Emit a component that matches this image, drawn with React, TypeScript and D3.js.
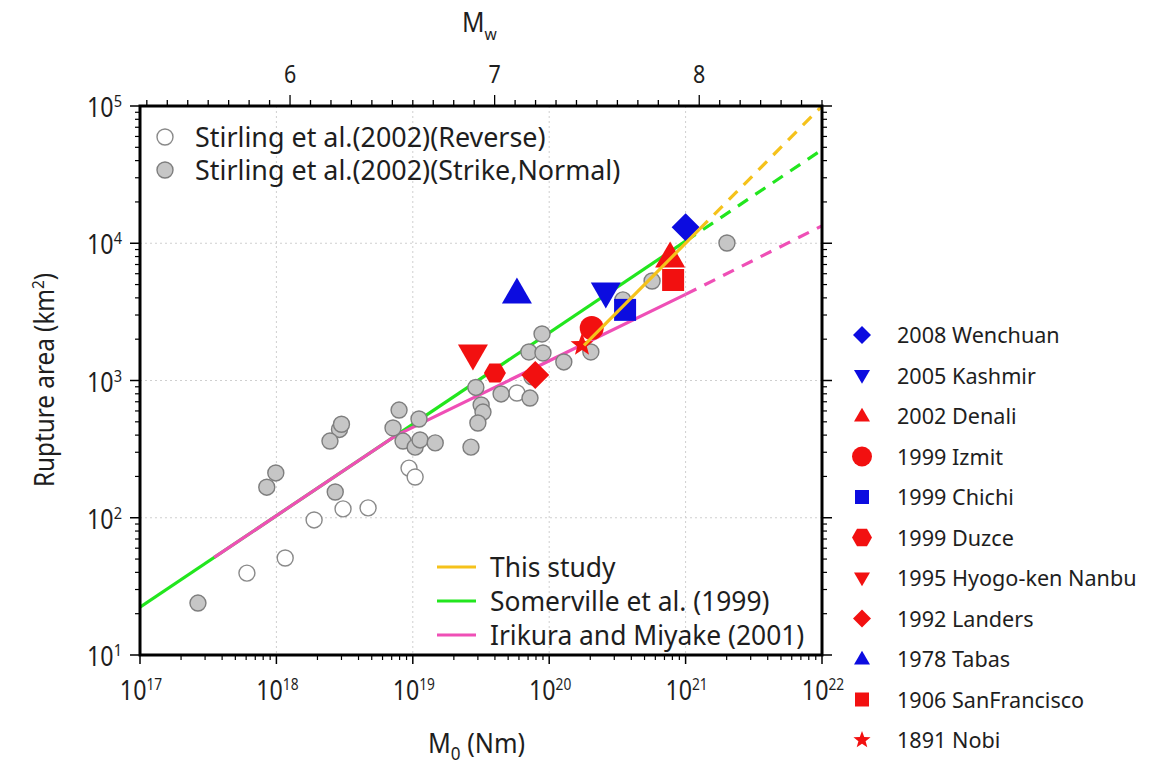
import React from 'react';
import * as d3 from 'd3';

const FONT = "'Noto Sans', 'Open Sans', sans-serif";

// Stirling et al. (2002) Reverse (open circles)
const reverseM0 = [6.08e17, 1.16e18, 1.89e18, 3.08e18, 4.7e18, 9.38e18, 1.04e19, 5.8e19];
const reverseArea = [39.5, 50.9, 96.4, 116, 118, 230, 198, 811];

// Stirling et al. (2002) Strike, Normal (gray circles)
const strikeM0 = [2.66e17, 8.5e17, 9.9e17, 2.7e18, 2.9e18, 3.0e18, 2.47e18, 7.16e18, 7.93e18, 8.48e18,
  1.04e19, 1.11e19, 1.13e19, 1.46e19, 2.67e19, 2.9e19, 3.17e19, 3.27e19, 3.0e19, 4.44e19,
  7.23e19, 7.48e19, 7.1e19, 9.0e19, 8.86e19, 1.28e20, 2.02e20, 3.47e20, 5.68e20, 2.01e21];
const strikeArea = [23.9, 167, 212, 154, 440, 480, 362, 451, 609, 362,
  327, 524, 369, 351, 327, 890, 663, 589, 490, 798,
  745, 1062, 1614, 1587, 2183, 1365, 1614, 3866, 5310, 10040];

// Events
const eventNames = ['2008 Wenchuan', '2005 Kashmir', '2002 Denali', '1999 Izmit', '1999 Chichi', '1999 Duzce',
  '1995 Hyogo-ken Nanbu', '1992 Landers', '1978 Tabas', '1906 SanFrancisco', '1891 Nobi'];
const eventM0 = [1.0e21, 2.6e20, 7.7e20, 2.05e20, 3.6e20, 4.0e19, 2.76e19, 7.9e19, 5.8e19, 8.1e20, 1.74e20];
const eventArea = [13100, 4350, 7940, 2410, 3270, 1135, 1535, 1097, 4330, 5400, 1815];
const eventShapes = ['diamond', 'triangleDown', 'triangle', 'circle', 'square', 'hexagon', 'triangleDown', 'diamond', 'triangle', 'square', 'star'];
const eventColors = ['blue', 'blue', 'red', 'red', 'blue', 'red', 'red', 'red', 'blue', 'red', 'red'];

// Scaling relations (vertices in M0 [Nm], area [km2])
const somervilleSolid: [number, number][] = [[1e17, 22.3], [1e21, 10350]];
const somervilleDashed: [number, number][] = [[1e21, 10350], [1e22, 48000]];
const irikuraSolid: [number, number][] = [[3.5e17, 51.4], [7.5e18, 397], [1e21, 4240]];
const irikuraDashed: [number, number][] = [[1e21, 4240], [1e22, 13400]];
const thisStudySolid: [number, number][] = [[1.8e20, 1800], [1.26e21, 12600]];
const thisStudyDashed: [number, number][] = [[1.26e21, 12600], [1e22, 100000]];

const lineLegend = ['This study', 'Somerville et al. (1999)', 'Irikura and Miyake (2001)'];
const lineColors = ['#f5c21b', '#22e61e', '#ef4fb6'];

const xDecades = [17, 18, 19, 20, 21, 22];
const yDecades = [1, 2, 3, 4, 5];
const mwLabels = [6, 7, 8];

const COLORS: Record<string, string> = { red: '#f21010', blue: '#0c0ce0' };
const TXT = '#1e1e1e';

function shapePath(shape: string, s: number): string {
  switch (shape) {
    case 'diamond':
      return `M0,${-s}L${s},0L0,${s}L${-s},0Z`;
    case 'triangle': {
      const h = s * 2 * 0.866;
      return `M0,${-h * 0.6}L${s},${h * 0.4}L${-s},${h * 0.4}Z`;
    }
    case 'triangleDown': {
      const h = s * 2 * 0.866;
      return `M0,${h * 0.6}L${s},${-h * 0.4}L${-s},${-h * 0.4}Z`;
    }
    case 'circle':
      return d3.symbol(d3.symbolCircle, Math.PI * s * s)() as string;
    case 'square':
      return `M${-s},${-s}L${s},${-s}L${s},${s}L${-s},${s}Z`;
    case 'hexagon': {
      const pts = d3.range(6).map(i => {
        const a = (i * Math.PI) / 3;
        return [s * Math.cos(a), s * Math.sin(a)];
      });
      return 'M' + pts.map(p => p.join(',')).join('L') + 'Z';
    }
    case 'star': {
      const pts = d3.range(10).map(i => {
        const r = i % 2 === 0 ? s : s * 0.42;
        const a = -Math.PI / 2 + (i * Math.PI) / 5;
        return [r * Math.cos(a), r * Math.sin(a)];
      });
      return 'M' + pts.map(p => p.join(',')).join('L') + 'Z';
    }
  }
  return '';
}

const plotSize: Record<string, number> = { diamond: 14, triangle: 15, triangleDown: 15, circle: 12, square: 11, hexagon: 11, star: 12 };
const legendSize: Record<string, number> = { diamond: 9, triangle: 8, triangleDown: 8, circle: 10, square: 7, hexagon: 10, star: 9 };

function Txt(props: { x: number; y: number; size: number; sx?: number; anchor?: string; rotate?: number; children: any }) {
  const { x, y, size, sx = 1, anchor = 'start', rotate = 0, children } = props;
  return (
    <text transform={`translate(${x},${y}) rotate(${rotate}) scale(${sx},1)`} textAnchor={anchor} fontSize={size} fill={TXT}>
      {children}
    </text>
  );
}

export default function App() {
  const W = 1156, H = 764;
  const L = 140, R = 822, T = 106, B = 655;
  const x = d3.scaleLog().domain([1e17, 1e22]).range([L, R]);
  const y = d3.scaleLog().domain([10, 1e5]).range([B, T]);
  const line = d3.line<[number, number]>().x(d => x(d[0])).y(d => y(d[1]));

  const mwToM0 = (mw: number) => Math.pow(10, 1.5 * mw + 9.1);
  const mwTicks = d3.range(53, 87).map(v => v / 10);

  const xMinor: number[] = [];
  xDecades.slice(0, -1).forEach(d => { for (let k = 2; k <= 9; k++) xMinor.push(k * Math.pow(10, d)); });
  const yMinor: number[] = [];
  yDecades.slice(0, -1).forEach(d => { for (let k = 2; k <= 9; k++) yMinor.push(k * Math.pow(10, d)); });

  const gridX = xDecades.slice(1, -1).map(d => Math.pow(10, d));
  const gridY = yDecades.slice(1, -1).map(d => Math.pow(10, d));

  const legendY0 = 335, legendDY = 40.5;

  return (
    <svg width={W} height={H} style={{ position: 'absolute', left: 0, top: 0, background: '#fff' }} fontFamily={FONT}>
      <defs>
        <clipPath id="plotclip"><rect x={L} y={T} width={R - L} height={B - T} /></clipPath>
      </defs>
      <rect x={0} y={0} width={W} height={H} fill="#fff" />
      {/* grid */}
      {gridX.map(v => (
        <line key={'gx' + v} x1={x(v)} x2={x(v)} y1={T} y2={B} stroke="#cfcfcf" strokeWidth={1} strokeDasharray="2,3" />
      ))}
      {gridY.map(v => (
        <line key={'gy' + v} x1={L} x2={R} y1={y(v)} y2={y(v)} stroke="#cfcfcf" strokeWidth={1} strokeDasharray="2,3" />
      ))}

      <g clipPath="url(#plotclip)">
        <path d={line(somervilleSolid) as string} stroke={lineColors[1]} strokeWidth={3.2} fill="none" />
        <path d={line(somervilleDashed) as string} stroke={lineColors[1]} strokeWidth={3.2} fill="none" strokeDasharray="12,9" />
        <path d={line(irikuraSolid) as string} stroke={lineColors[2]} strokeWidth={3.2} fill="none" />
        <path d={line(irikuraDashed) as string} stroke={lineColors[2]} strokeWidth={3.2} fill="none" strokeDasharray="12,9" />

        {reverseM0.map((m, i) => (
          <circle key={'r' + i} cx={x(m)} cy={y(reverseArea[i])} r={8} fill="#fff" stroke="#8a8a8a" strokeWidth={1.4} />
        ))}
        {strikeM0.map((m, i) => (
          <circle key={'s' + i} cx={x(m)} cy={y(strikeArea[i])} r={8} fill="#c6c6c6" stroke="#7e7e7e" strokeWidth={1.4} />
        ))}

        {eventM0.map((m, i) => (
          <path key={'e' + i} transform={`translate(${x(m)},${y(eventArea[i])})`} d={shapePath(eventShapes[i], plotSize[eventShapes[i]])} fill={COLORS[eventColors[i]]} />
        ))}

        <path d={line(thisStudySolid) as string} stroke={lineColors[0]} strokeWidth={3.2} fill="none" />
        <path d={line(thisStudyDashed) as string} stroke={lineColors[0]} strokeWidth={3.2} fill="none" strokeDasharray="12,9" />
      </g>

      {/* frame */}
      <rect x={L} y={T} width={R - L} height={B - T} fill="none" stroke="#000" strokeWidth={3} />

      {/* bottom ticks */}
      {xDecades.map(d => (
        <line key={'bx' + d} x1={x(Math.pow(10, d))} x2={x(Math.pow(10, d))} y1={B} y2={B + 9} stroke="#000" strokeWidth={1.5} />
      ))}
      {xMinor.map(v => (
        <line key={'bm' + v} x1={x(v)} x2={x(v)} y1={B} y2={B + 5} stroke="#000" strokeWidth={1.2} />
      ))}
      {/* left & right ticks */}
      {yDecades.map(d => (
        <g key={'ly' + d}>
          <line x1={L - 10} x2={L} y1={y(Math.pow(10, d))} y2={y(Math.pow(10, d))} stroke="#000" strokeWidth={1.5} />
          <line x1={R} x2={R + 10} y1={y(Math.pow(10, d))} y2={y(Math.pow(10, d))} stroke="#000" strokeWidth={1.5} />
        </g>
      ))}
      {yMinor.map(v => (
        <g key={'lm' + v}>
          <line x1={L - 5} x2={L} y1={y(v)} y2={y(v)} stroke="#000" strokeWidth={1.2} />
          <line x1={R} x2={R + 5} y1={y(v)} y2={y(v)} stroke="#000" strokeWidth={1.2} />
        </g>
      ))}
      {/* top Mw ticks */}
      {mwTicks.map(mw => {
        const major = Math.abs(mw - Math.round(mw)) < 1e-6;
        const px = x(mwToM0(mw));
        return <line key={'mt' + mw} x1={px} x2={px} y1={T} y2={T - (major ? 11 : 6)} stroke="#000" strokeWidth={1.3} />;
      })}

      {/* bottom labels */}
      {xDecades.map(d => (
        <Txt key={'xl' + d} x={x(Math.pow(10, d)) + 1} y={700} size={27} sx={0.86} anchor="middle">
          10<tspan fontSize={16} dy={-10}>{d}</tspan>
        </Txt>
      ))}
      {/* left labels */}
      {yDecades.map(d => (
        <Txt key={'yl' + d} x={122} y={y(Math.pow(10, d)) + 11} size={27} sx={0.86} anchor="end">
          10<tspan fontSize={17} dy={-10}>{d}</tspan>
        </Txt>
      ))}
      {/* top labels */}
      {mwLabels.map(mw => (
        <Txt key={'mwl' + mw} x={x(mwToM0(mw))} y={83} size={25} sx={0.86} anchor="middle">{mw}</Txt>
      ))}

      {/* axis titles */}
      <Txt x={462} y={32} size={27} sx={0.92}>M<tspan fontSize={17} dy={8}>w</tspan></Txt>
      <Txt x={428} y={753} size={28} sx={0.9}>M<tspan fontSize={19} dy={7}>0</tspan><tspan dy={-7}> (Nm)</tspan></Txt>
      <Txt x={54} y={380} size={27} sx={0.9} rotate={-90} anchor="middle">
        Rupture area (km<tspan fontSize={17} dy={-10}>2</tspan><tspan dy={10}>)</tspan>
      </Txt>

      {/* top-left legend */}
      <circle cx={165} cy={137} r={8} fill="#fff" stroke="#8a8a8a" strokeWidth={1.4} />
      <Txt x={195} y={147} size={28} sx={0.96}>Stirling et al.(2002)(Reverse)</Txt>
      <circle cx={165} cy={170} r={8} fill="#c6c6c6" stroke="#7e7e7e" strokeWidth={1.4} />
      <Txt x={195} y={180} size={28} sx={0.96}>Stirling et al.(2002)(Strike,Normal)</Txt>

      {/* line legend */}
      {lineLegend.map((name, i) => (
        <g key={'ll' + i}>
          <line x1={437} x2={476} y1={567 + i * 34} y2={567 + i * 34} stroke={lineColors[i]} strokeWidth={3.2} />
          <Txt x={490} y={577 + i * 34} size={27.5} sx={0.96}>{name}</Txt>
        </g>
      ))}

      {/* event legend */}
      {eventNames.map((name, i) => (
        <g key={'el' + i}>
          <path transform={`translate(862,${legendY0 + i * legendDY})`} d={shapePath(eventShapes[i], legendSize[eventShapes[i]])} fill={COLORS[eventColors[i]]} />
          <Txt x={897} y={legendY0 + i * legendDY + 8} size={22.5} sx={0.96}>{name}</Txt>
        </g>
      ))}
    </svg>
  );
}
